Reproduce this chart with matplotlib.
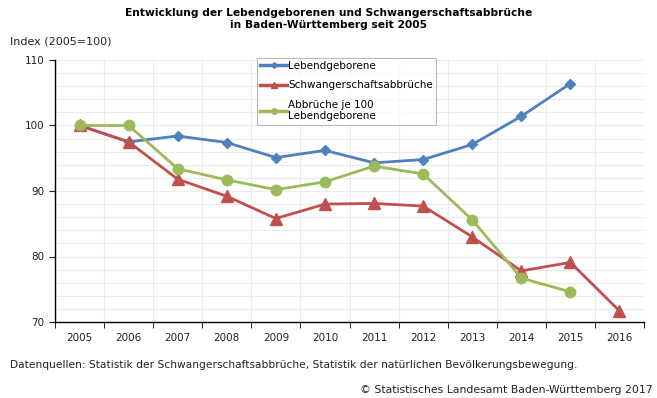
import matplotlib
matplotlib.use("Agg")
import matplotlib.pyplot as plt
from matplotlib.lines import Line2D
import numpy as np

plt.rcParams['font.family'] = ['DejaVu Sans']

years = ["2005", "2006", "2007", "2008", "2009", "2010", "2011", "2012", "2013", "2014", "2015", "2016"]
lebend = [100, 97.5, 98.4, 97.4, 95.1, 96.2, 94.3, 94.8, 97.1, 101.4, 106.4, None]
abbr = [100, 97.5, 91.8, 89.2, 85.8, 88.0, 88.1, 87.7, 83.0, 77.8, 79.1, 71.7]
je100 = [100, 100, 93.4, 91.7, 90.2, 91.4, 93.8, 92.6, 85.6, 76.7, 74.6, None]

c_blue = "#4F81BD"
c_red = "#C0504D"
c_green = "#9BBB59"

fig = plt.figure(figsize=(6.57, 3.98), dpi=100)
ax = fig.add_axes([55/657, 1-322/398, (644-55)/657, 262/398])

x = np.arange(len(years))
def arr(v):
    return np.array([np.nan if a is None else a for a in v], dtype=float)

ax.plot(x, arr(lebend), color=c_blue, lw=2.0, marker="D", ms=5.5, zorder=3)
ax.plot(x, arr(abbr), color=c_red, lw=2.0, marker="^", ms=8, zorder=3)
ax.plot(x, arr(je100), color=c_green, lw=2.0, marker="o", ms=7.5, zorder=4)

ax.set_xlim(-0.5, len(years) - 0.5)
ax.set_ylim(70, 110)
ax.set_yticks([70, 80, 90, 100, 110])
ax.set_yticks(np.arange(70, 111, 2), minor=True)
ax.set_xticks(x)
ax.set_xticklabels(years)
ax.set_xticks(np.arange(-0.5, len(years), 1), minor=True)
ax.tick_params(axis='x', which='major', length=0, labelsize=7.5, pad=8, colors="#222222")
ax.tick_params(axis='x', which='minor', length=4, direction='out')
ax.tick_params(axis='y', which='major', length=4, labelsize=7.5, colors="#222222")
ax.tick_params(axis='y', which='minor', length=0)
ax.grid(True, which='minor', color="#ebebeb", lw=0.8)
ax.grid(True, axis='y', which='major', color="#ebebeb", lw=0.8)
ax.set_axisbelow(True)
for s in ["top", "right"]:
    ax.spines[s].set_visible(False)
ax.spines["left"].set_color("black")
ax.spines["bottom"].set_color("black")
ax.spines["left"].set_linewidth(1)
ax.spines["bottom"].set_linewidth(1)

handles = [
    Line2D([], [], color=c_blue, lw=2.5, marker="D", ms=3),
    Line2D([], [], color=c_red, lw=2.5, marker="^", ms=4),
    Line2D([], [], color=c_green, lw=2.5, marker="o", ms=4),
]
labels = ["Lebendgeborene", "Schwangerschaftsabbrüche", "Abbrüche je 100\nLebendgeborene"]
leg = fig.legend(handles, labels, loc="upper left", bbox_to_anchor=(257/657, 1-58/398),
                 fontsize=7.5, frameon=True, fancybox=False, handlelength=2.6,
                 handletextpad=0.1, borderpad=0.3, labelspacing=0.9, borderaxespad=0)
leg.get_frame().set_edgecolor("#aaaaaa")
leg.get_frame().set_linewidth(0.8)

fig.text(0.5, 1-19/398, "Entwicklung der Lebendgeborenen und Schwangerschaftsabbrüche\nin Baden-Württemberg seit 2005",
         ha="center", va="center", fontsize=7.7, fontweight="bold", linespacing=1.15)
fig.text(10/657, 1-42/398, "Index (2005=100)", ha="left", va="center", fontsize=8, color="#222222")
fig.text(10/657, 1-365/398, "Datenquellen: Statistik der Schwangerschaftsabbrüche, Statistik der natürlichen Bevölkerungsbewegung.",
         ha="left", va="center", fontsize=7.7, color="#222222")
fig.text(653/657, 1-390/398, "© Statistisches Landesamt Baden-Württemberg 2017",
         ha="right", va="center", fontsize=7.8, color="#222222")

fig.savefig("out.png", dpi=100)
